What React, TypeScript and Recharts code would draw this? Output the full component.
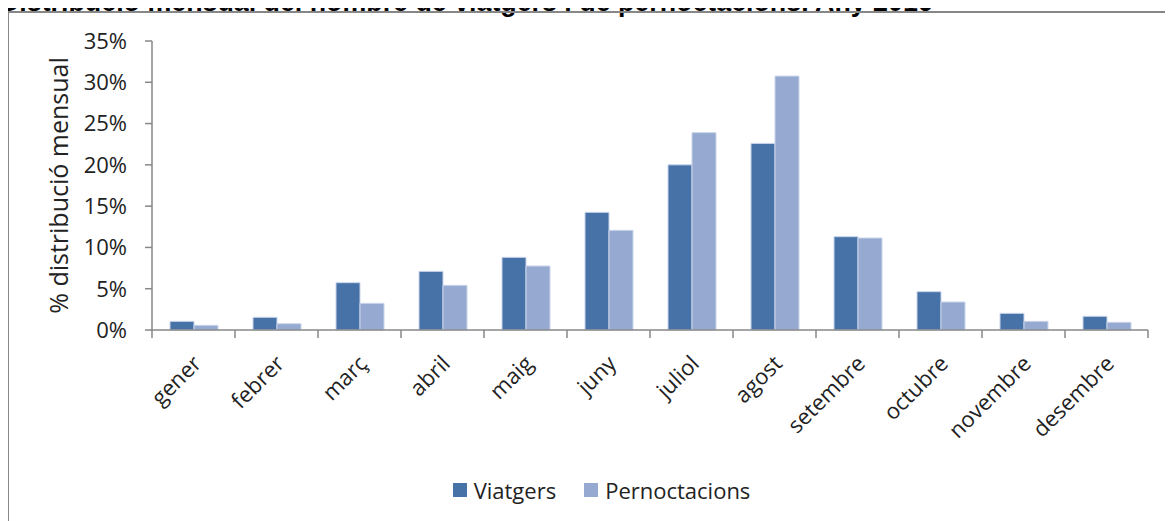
import React from 'react';
import { BarChart, Bar, XAxis, YAxis, Legend } from 'recharts';

const months = ['gener', 'febrer', 'març', 'abril', 'maig', 'juny', 'juliol', 'agost', 'setembre', 'octubre', 'novembre', 'desembre'];
const viatgers = [1.05, 1.54, 5.73, 7.1, 8.8, 14.25, 20.0, 22.6, 11.3, 4.64, 2.02, 1.66];
const pernoctacions = [0.57, 0.76, 3.23, 5.41, 7.75, 12.07, 23.9, 30.75, 11.14, 3.39, 1.05, 0.93];
const yTicks = [0, 5, 10, 15, 20, 25, 30, 35];
const seriesNames = ['Viatgers', 'Pernoctacions'];
const title = 'Distribució mensual del nombre de viatgers i de pernoctacions. Any 2016';
const yLabel = '% distribució mensual';

const data = months.map((m, i) => ({ month: m, v: viatgers[i], p: pernoctacions[i] }));

const DARK = '#4672A7';
const LIGHT = '#95A9D1';
const AXIS = '#878787';
const FONT = '"Open Sans", sans-serif';

const XTick = (props: any) => {
  const { x, y, payload, width, visibleTicksCount, index } = props;
  const band = (width || 996) / (visibleTicksCount || 12);
  const left = x - band / 2;
  const right = x + band / 2;
  return (
    <g>
      <line x1={left} x2={left} y1={y} y2={y + 8} stroke={AXIS} strokeWidth={1.5} />
      {index === (visibleTicksCount || 12) - 1 && (
        <line x1={right} x2={right} y1={y} y2={y + 8} stroke={AXIS} strokeWidth={1.5} />
      )}
      <text
        transform={`translate(${x + 9},${y + 35}) rotate(-45)`}
        textAnchor="end"
        fontFamily={FONT}
        fontSize={22}
        fill="#222"
      >
        {payload.value}
      </text>
    </g>
  );
};

const YLabel = (props: any) => {
  const { viewBox } = props;
  const cx = 58;
  const cy = viewBox.y + viewBox.height / 2;
  return (
    <text
      x={cx}
      y={cy}
      transform={`rotate(-90, ${cx}, ${cy})`}
      textAnchor="middle"
      dominantBaseline="central"
      fontFamily={FONT}
      fontSize={25}
      fill="#222"
    >
      {yLabel}
    </text>
  );
};

const LegendContent = () => (
  <div
    style={{
      display: 'flex',
      justifyContent: 'center',
      alignItems: 'center',
      paddingLeft: 30,
      height: 24,
      fontFamily: FONT,
      fontSize: 22,
      color: '#222',
    }}
  >
    {[DARK, LIGHT].map((c, i) => (
      <div key={i} style={{ display: 'flex', alignItems: 'center', marginLeft: i ? 28 : 0 }}>
        <div style={{ width: 14, height: 14, background: c, marginRight: 7 }} />
        <span style={{ lineHeight: '24px' }}>{seriesNames[i]}</span>
      </div>
    ))}
  </div>
);

export default function App() {
  return (
    <div
      style={{
        position: 'relative',
        width: 1173,
        height: 521,
        marginLeft: -8,
        marginTop: -8,
        overflow: 'hidden',
        background: '#fff',
      }}
    >
      <div
        style={{
          position: 'absolute',
          left: 0,
          top: -11,
          fontFamily: '"Liberation Sans", Arial, sans-serif',
          fontWeight: 'bold',
          fontSize: 26.8,
          lineHeight: '27px',
          whiteSpace: 'nowrap',
          color: '#000',
        }}
      >
        {title}
      </div>
      <div
        style={{
          position: 'absolute',
          left: 7,
          top: 11,
          width: 2000,
          height: 2000,
          borderLeft: `2px solid ${AXIS}`,
          borderTop: `2px solid ${AXIS}`,
        }}
      />
      <div style={{ position: 'absolute', left: 0, top: 0 }}>
        <BarChart
          width={1173}
          height={521}
          data={data}
          margin={{ top: 41, right: 25, bottom: 19, left: 0 }}
          barGap={0}
          barSize={24}
        >
          <XAxis
            dataKey="month"
            height={148}
            tickSize={0}
            tickMargin={0}
            tickLine={false}
            axisLine={{ stroke: AXIS, strokeWidth: 1.5 }}
            interval={0}
            tick={<XTick />}
          />
          <YAxis
            width={152}
            domain={[0, 35]}
            ticks={yTicks}
            interval={0}
            tickFormatter={(v: number) => `${v}%`}
            tickSize={7}
            tickMargin={18}
            axisLine={{ stroke: AXIS, strokeWidth: 1.5 }}
            tickLine={{ stroke: AXIS, strokeWidth: 1.5 }}
            tick={{ fontFamily: FONT, fontSize: 22, fill: '#222' }}
            label={<YLabel />}
          />
          <Legend
            verticalAlign="bottom"
            content={<LegendContent />}
            wrapperStyle={{ left: 0, width: 1173, height: 24 }}
          />
          <Bar dataKey="v" name={seriesNames[0]} fill={DARK} stroke="#c9d5ea" strokeWidth={1} isAnimationActive={false} />
          <Bar dataKey="p" name={seriesNames[1]} fill={LIGHT} stroke="#c9d5ea" strokeWidth={1} isAnimationActive={false} />
        </BarChart>
      </div>
    </div>
  );
}
